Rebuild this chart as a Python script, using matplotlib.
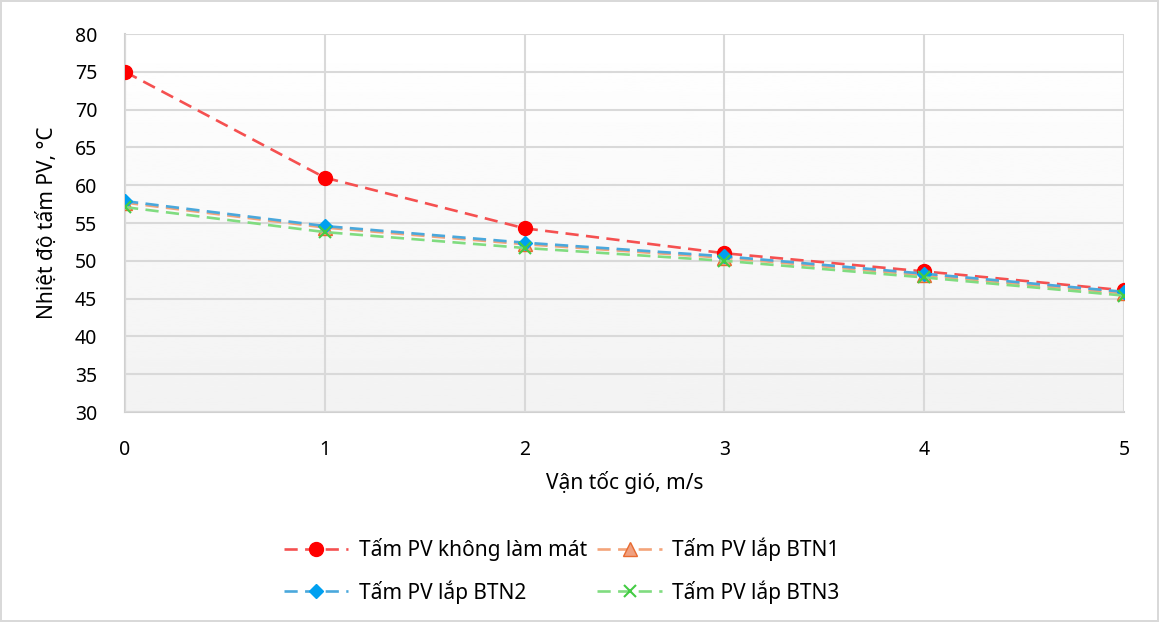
import matplotlib.pyplot as plt
import numpy as np

plt.rcParams['font.family'] = ['Noto Sans', 'DejaVu Sans']

# data
wind = [0, 1, 2, 3, 4, 5]
pv_no_cool = [75.0, 61.0, 54.3, 51.0, 48.6, 46.1]
pv_btn1 = [57.7, 54.4, 52.2, 50.4, 48.1, 45.7]
pv_btn2 = [57.9, 54.6, 52.4, 50.6, 48.3, 45.9]
pv_btn3 = [57.1, 53.8, 51.7, 50.0, 47.8, 45.4]

labels = ['Tấm PV không làm mát', 'Tấm PV lắp BTN1', 'Tấm PV lắp BTN2', 'Tấm PV lắp BTN3']

fig = plt.figure(figsize=(11.59, 6.22), dpi=100)
fig.patch.set_edgecolor('#d9d9d9')
fig.patch.set_linewidth(1.5)
ax = fig.add_axes([0.1079, 0.3376, 0.8619, 0.6077])

# soft gradient in plot area
grad = np.linspace(1.0, 0.95, 256).reshape(-1, 1)
ax.imshow(grad, extent=[0, 1, 0, 1], transform=ax.transAxes, cmap='gray',
          vmin=0, vmax=1, aspect='auto', zorder=0)

dash = (0, (5, 2.8))
lw = 1.9
l0, = ax.plot(wind, pv_no_cool, color='#f55050', linestyle=dash, lw=lw, marker='o',
              markersize=10, markerfacecolor='#ff0000', markeredgecolor='#ff0000',
              label=labels[0], zorder=3)
l1, = ax.plot(wind, pv_btn1, color='#f4a47a', linestyle=dash, lw=lw, marker='^',
              markersize=10, markerfacecolor='#f0a080', markeredgecolor='#e86a30',
              label=labels[1], zorder=3)
l2, = ax.plot(wind, pv_btn2, color='#4aa8dc', linestyle=dash, lw=lw, marker='D',
              markersize=7, markerfacecolor='#00a0f0', markeredgecolor='#00a0f0',
              label=labels[2], zorder=4)
l3, = ax.plot(wind, pv_btn3, color='#80dc80', linestyle=dash, lw=lw, marker='x',
              markersize=9, markeredgewidth=1.5, markeredgecolor='#44cc44',
              label=labels[3], zorder=4)

ax.set_xlim(0, 5)
ax.set_ylim(30, 80)
ax.set_xticks(wind)
ax.set_yticks(range(30, 81, 5))
ax.grid(True, color='#d9d9d9', lw=1.5)
ax.set_axisbelow(False)
for s in ['top', 'right']:
    ax.spines[s].set_visible(False)
for s in ['left', 'bottom']:
    ax.spines[s].set_color('#d0d0d0')
    ax.spines[s].set_linewidth(1.5)
ax.tick_params(length=0, labelsize=14, colors='#000000')
ax.tick_params(axis='x', pad=20)
ax.tick_params(axis='y', pad=20)

ax.set_xlabel('Vận tốc gió, m/s', fontsize=15, labelpad=8)
ax.set_ylabel('Nhiệt độ tấm PV, °C', fontsize=15, labelpad=12)

# row-major order like the original
handles = [l0, l2, l1, l3]
ax.legend(handles, [h.get_label() for h in handles], loc='center',
          bbox_to_anchor=(0.437, -0.42), ncol=2, frameon=False,
          fontsize=15, handlelength=3.1, handletextpad=0.5,
          columnspacing=0.5, labelspacing=0.9)

fig.savefig('out.png', dpi=100)
